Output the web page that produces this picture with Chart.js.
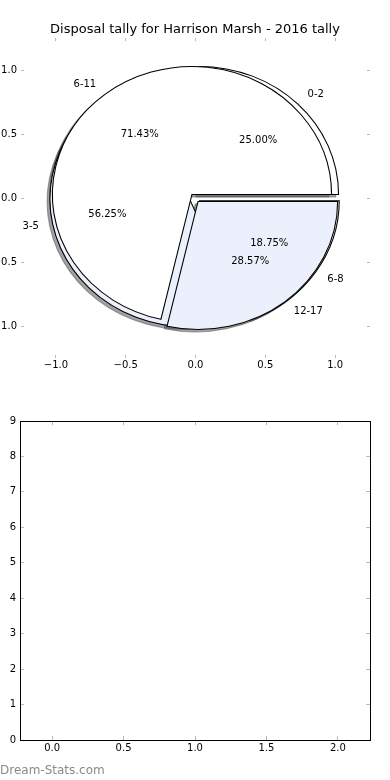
<!DOCTYPE html>
<html>
<head>
<meta charset="utf-8">
<script src="https://cdn.jsdelivr.net/npm/chart.js@4.4.1/dist/chart.umd.min.js"></script>
<style>
html, body { margin: 0; padding: 0; background: #fff; overflow: hidden; }
#wrap { position: relative; width: 390px; height: 780px; background: #fff; }
canvas { position: absolute; left: 0; }
</style>
</head>
<body>
<div id="wrap">
  <canvas id="axTop" width="390" height="400" style="top:0;width:390px;height:400px;z-index:0"></canvas>
  <canvas id="pieA" width="390" height="400" style="top:0;width:390px;height:400px;z-index:1"></canvas>
  <canvas id="pieB" width="390" height="400" style="top:0;width:390px;height:400px;z-index:2"></canvas>
  <canvas id="axBottom" width="390" height="380" style="top:400px;width:390px;height:380px;z-index:0"></canvas>
</div>
<script>
// ---------------- data ----------------
const TITLE = 'Disposal tally for Harrison Marsh - 2016 tally';
const pieALabels = ['0-2', '3-5', '6-8'];
const pieAValues = [4, 9, 3];
const pieBLabels = ['6-11', '12-17'];
const pieBValues = [5, 2];
const pieAxisTicks = [-1, -0.5, 0, 0.5, 1];
const bottomXTicks = [0, 0.5, 1, 1.5, 2];
const bottomYTicks = [0, 1, 2, 3, 4, 5, 6, 7, 8, 9];
const WATERMARK = 'Dream-Stats.com';

// ---------------- style ----------------
const FONT = '"DejaVu Sans", "Liberation Sans", sans-serif';
const PIE_COLORS = ['#ffffff', '#ebf0fc'];
const TICK_COLOR = '#b8b8b8';
const PIE_RADIUS = 128;           // px per data unit vertically
const SX = 139.6 / 128;           // horizontal stretch of the pie axes
const SHADOW_OFF = 0.02;          // matplotlib shadow offset (data units)

Chart.defaults.font.family = FONT;
Chart.defaults.color = '#000';

function fmtTick(v) { return v.toFixed(1).replace('-', '\u2212'); }

function shadowColor(hex) {
  const n = parseInt(hex.slice(1), 16);
  const r = Math.round(((n >> 16) & 255) * 0.3), g = Math.round(((n >> 8) & 255) * 0.3), b = Math.round((n & 255) * 0.3);
  return 'rgba(' + r + ',' + g + ',' + b + ',0.5)';
}
function explodeVec(el, e) {
  const m = (el.startAngle + el.endAngle) / 2;
  return [Math.cos(m) * e * el.outerRadius, Math.sin(m) * e * el.outerRadius];
}
function drawArcAt(ctx, el, dx, dy, override) {
  ctx.save();
  ctx.translate(dx, dy);
  if (override) {
    const o = el.options;
    el.options = Object.assign({}, o, override);
    el.draw(ctx);
    el.options = o;
  } else {
    el.draw(ctx);
  }
  ctx.restore();
}

// draws exploded wedges (plus shadows) on a horizontally stretched pie
const mplPie = {
  id: 'mplPie',
  beforeDatasetsDraw(chart, args, opts) {
    const ctx = chart.ctx;
    const meta = chart.getDatasetMeta(0);
    if (!meta.data.length) return;
    const cx = meta.data[0].x, cy = meta.data[0].y;
    ctx.save();
    ctx.translate(cx, cy); ctx.scale(SX, 1); ctx.translate(-cx, -cy);
    (opts.shadowsOf || []).forEach(id => {
      const c = Chart.getChart(id);
      if (!c) return;
      const m = c.getDatasetMeta(0);
      const e = c.options.plugins.mplPie.explode;
      m.data.forEach(el => {
        const [ex, ey] = explodeVec(el, e);
        const col = shadowColor(el.options.backgroundColor);
        drawArcAt(ctx, el, ex - SHADOW_OFF * el.outerRadius, ey + SHADOW_OFF * el.outerRadius,
          { backgroundColor: col, borderColor: col });
      });
    });
    meta.data.forEach(el => {
      const [ex, ey] = explodeVec(el, opts.explode);
      drawArcAt(ctx, el, ex, ey);
    });
    ctx.restore();
    return false;
  },
  afterDraw(chart, args, opts) {
    const ctx = chart.ctx;
    (opts.labelsOf || []).forEach(id => {
      const c = Chart.getChart(id);
      if (!c) return;
      const m = c.getDatasetMeta(0);
      const e = c.options.plugins.mplPie.explode;
      const vals = c.data.datasets[0].data;
      const total = vals.reduce((a, b) => a + b, 0);
      m.data.forEach((el, i) => {
        const a = (el.startAngle + el.endAngle) / 2;
        const cs = Math.cos(a), sn = Math.sin(a), r = el.outerRadius;
        const at = f => [el.x + cs * (e + f) * r * SX, el.y + sn * (e + f) * r];
        ctx.save();
        ctx.font = '10px ' + FONT;
        ctx.fillStyle = '#000';
        ctx.textBaseline = 'middle';
        const [lx, ly] = at(1.1);
        ctx.textAlign = cs > 0 ? 'left' : 'right';
        ctx.fillText(c.data.labels[i], lx, ly);
        const [px, py] = at(0.6);
        ctx.textAlign = 'center';
        ctx.fillText((vals[i] / total * 100).toFixed(2) + '%', px, py);
        ctx.restore();
      });
    });
  }
};

// ---------------- top axes (pie frame) ----------------
function tickAxis(pos, min, max, ticks, len, fit, pad, showLabels, border) {
  return {
    type: 'linear', position: pos, min: min, max: max,
    afterBuildTicks: s => { s.ticks = ticks.map(v => ({ value: v })); },
    ticks: { display: showLabels, callback: v => fmtTick(v), font: { size: 10, family: FONT },
             color: '#000', padding: pad, maxRotation: 0, autoSkip: false },
    grid: { drawOnChartArea: false, drawTicks: true, tickLength: -len, tickColor: TICK_COLOR, tickWidth: 1 },
    border: border ? { display: true, color: '#000', width: 1 } : { display: false },
    afterFit: s => { if (pos === 'left' || pos === 'right') s.width = fit; else s.height = fit; }
  };
}

new Chart(document.getElementById('axTop'), {
  type: 'scatter',
  data: { datasets: [] },
  options: {
    responsive: false, animation: false, events: [], devicePixelRatio: 1,
    layout: { padding: 0 },
    plugins: {
      legend: { display: false }, tooltip: { enabled: false },
      title: { display: true, text: TITLE, color: '#000', font: { size: 13, weight: 'normal', family: FONT, lineHeight: 1.2 },
               padding: { top: 21.7, bottom: 0.7 } }
    },
    scales: {
      x: tickAxis('bottom', -1.25, 1.25, pieAxisTicks, 3, 42, 4, true, false),
      y: tickAxis('left', -1.25, 1.25, pieAxisTicks, 3, 21, 7, true, false),
      x2: tickAxis('top', -1.25, 1.25, pieAxisTicks, 3, 0, 0, false, false),
      y2: tickAxis('right', -1.25, 1.25, pieAxisTicks, 3, 20, 0, false, false)
    }
  }
});

// ---------------- pies ----------------
function pieConfig(labels, values, explode, extra) {
  // matplotlib draws counter-clockwise from 3 o'clock; Chart.js goes clockwise, so reverse the order
  const L = labels.slice().reverse();
  const V = values.slice().reverse();
  const C = values.map((v, i) => PIE_COLORS[i % PIE_COLORS.length]).reverse();
  return {
    type: 'pie',
    data: { labels: L, datasets: [{ data: V, backgroundColor: C, borderColor: '#000', borderWidth: 1,
                                    borderJoinStyle: 'miter', offset: 0 }] },
    options: {
      responsive: false, animation: false, events: [], devicePixelRatio: 1,
      rotation: 90, radius: PIE_RADIUS,
      layout: { padding: { bottom: 4 } },
      plugins: { legend: { display: false }, tooltip: { enabled: false },
                 mplPie: Object.assign({ explode: explode }, extra) }
    },
    plugins: [mplPie]
  };
}

const chartA = new Chart(document.getElementById('pieA'),
  pieConfig(pieALabels, pieAValues, 0.04, { shadowsOf: ['pieA', 'pieB'] }));
const chartB = new Chart(document.getElementById('pieB'),
  pieConfig(pieBLabels, pieBValues, 0.035, { labelsOf: ['pieA', 'pieB'] }));
chartA.draw();
chartB.draw();

// ---------------- bottom (empty) axes ----------------
const watermark = {
  id: 'watermark',
  afterDraw(chart) {
    const ctx = chart.ctx;
    ctx.save();
    ctx.font = '12px ' + FONT;
    ctx.fillStyle = '#8a8a8a';
    ctx.textAlign = 'left';
    ctx.textBaseline = 'middle';
    ctx.fillText(WATERMARK, 0, 370.5);
    ctx.restore();
  }
};

function bottomAxis(pos, min, max, ticks, fit, pad, showLabels, fmt) {
  const a = tickAxis(pos, min, max, ticks, 4, fit, pad, showLabels, true);
  a.ticks.callback = fmt;
  return a;
}

new Chart(document.getElementById('axBottom'), {
  type: 'scatter',
  data: { datasets: [] },
  options: {
    responsive: false, animation: false, events: [], devicePixelRatio: 1,
    layout: { padding: 0 },
    plugins: { legend: { display: false }, tooltip: { enabled: false } },
    scales: {
      x: bottomAxis('bottom', -0.225, 2.225, bottomXTicks, 40, 6, true, v => fmtTick(v)),
      y: bottomAxis('left', 0, 9, bottomYTicks, 20, 8, true, v => String(v)),
      x2: bottomAxis('top', -0.225, 2.225, bottomXTicks, 21, 0, false, v => ''),
      y2: bottomAxis('right', 0, 9, bottomYTicks, 20, 0, false, v => '')
    }
  },
  plugins: [watermark]
});
</script>
</body>
</html>
